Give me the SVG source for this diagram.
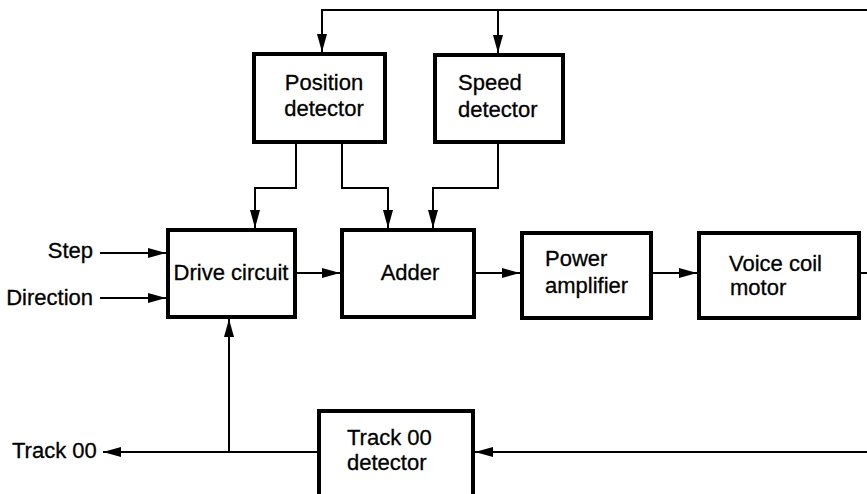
<svg xmlns="http://www.w3.org/2000/svg" width="867" height="494" viewBox="0 0 867 494">
<style>
.box{fill:#fff;stroke:#000;stroke-width:4}
.t{font-family:"Liberation Sans",Arial,sans-serif;font-size:22px;fill:#000;stroke:#000;stroke-width:0.3}
.c{fill:none;stroke:#000;stroke-width:2}
.a{marker-end:url(#ah)}
</style>
<defs>
<marker id="ah" markerUnits="userSpaceOnUse" markerWidth="18" markerHeight="12" viewBox="0 0 18 12" refX="18" refY="6" orient="auto">
<path d="M0,1 L18,6 L0,11 Z" fill="#000"/>
</marker>
</defs>
<rect width="867" height="494" fill="#fff"/>
<g id="connectors">
<path class="c" d="M867 10 H322 V52"/>
<path class="c a" d="M322 10 V52"/>
<path class="c a" d="M498 10 V53"/>
<path class="c a" d="M296 144 V188 H255 V228"/>
<path class="c a" d="M342 144 V188 H388 V228"/>
<path class="c a" d="M498 144 V188 H433 V228"/>
<path class="c a" d="M100 253 H166"/>
<path class="c a" d="M100 298 H166"/>
<path class="c a" d="M297 273 H340"/>
<path class="c a" d="M476 273 H520"/>
<path class="c a" d="M653 273 H697"/>
<path class="c" d="M861 273 H867"/>
<path class="c a" d="M867 452 H475"/>
<path class="c a" d="M317 452 H103"/>
<path class="c a" d="M229 452 V319"/>
</g>
<g id="position-detector">
<rect class="box" x="254" y="54" width="131" height="88"/>
<text class="t" x="324" y="90" text-anchor="middle">Position</text>
<text class="t" x="324" y="116" text-anchor="middle">detector</text>
</g>
<g id="speed-detector">
<rect class="box" x="435" y="55" width="128" height="87"/>
<text class="t" x="458" y="90">Speed</text>
<text class="t" x="458" y="117">detector</text>
</g>
<g id="drive-circuit">
<rect class="box" x="168" y="230" width="127" height="87"/>
<text class="t" x="231" y="280" text-anchor="middle">Drive circuit</text>
</g>
<g id="adder">
<rect class="box" x="342" y="230" width="132" height="87"/>
<text class="t" x="410" y="280" text-anchor="middle">Adder</text>
</g>
<g id="power-amplifier">
<rect class="box" x="522" y="233" width="129" height="85"/>
<text class="t" x="545" y="266">Power</text>
<text class="t" x="545" y="293">amplifier</text>
</g>
<g id="voice-coil-motor">
<rect class="box" x="699" y="233" width="160" height="85"/>
<text class="t" x="729" y="271">Voice coil</text>
<text class="t" x="730" y="295">motor</text>
</g>
<g id="track00-detector">
<rect class="box" x="319" y="411" width="154" height="95"/>
<text class="t" x="347" y="445">Track 00</text>
<text class="t" x="347" y="470">detector</text>
</g>
<g id="labels">
<text class="t" x="93" y="258" text-anchor="end">Step</text>
<text class="t" x="93" y="305" text-anchor="end">Direction</text>
<text class="t" x="12" y="458">Track 00</text>
</g>
</svg>
